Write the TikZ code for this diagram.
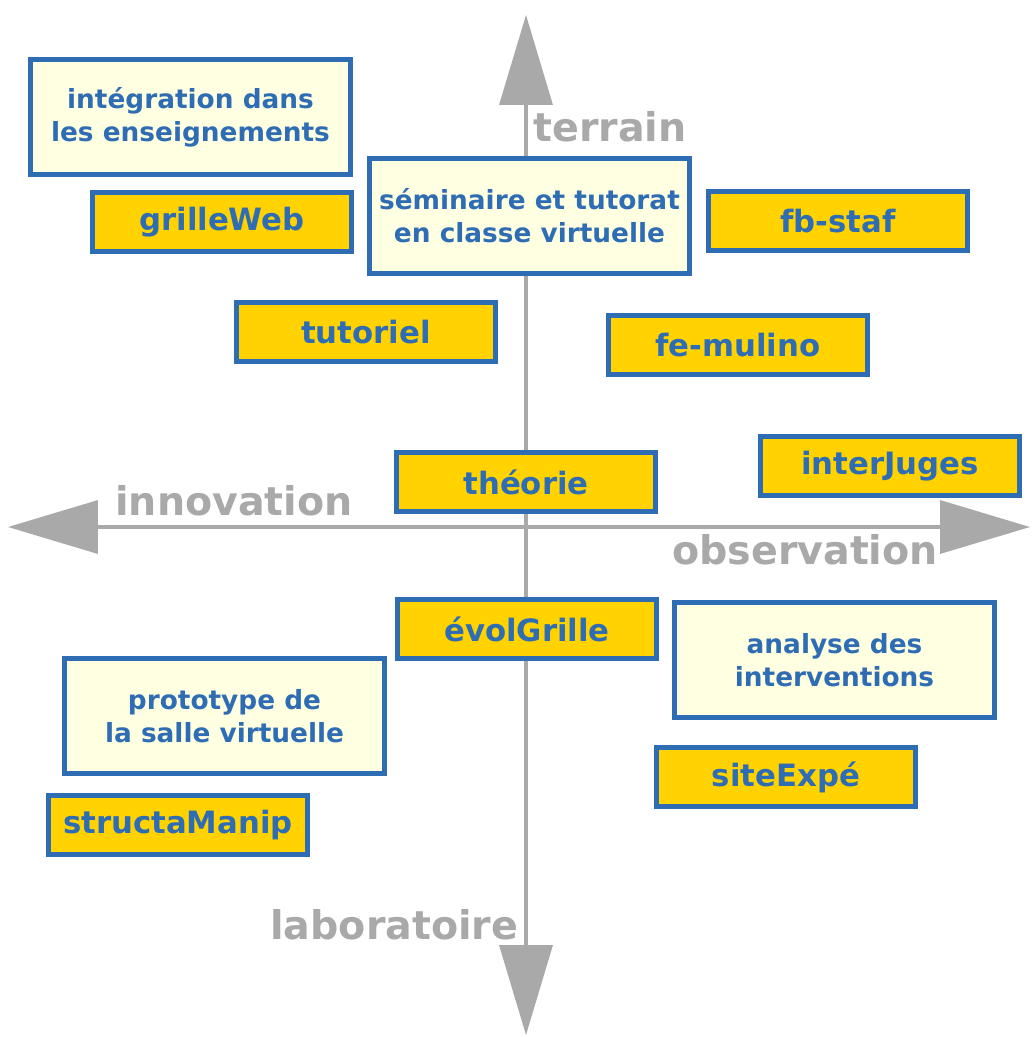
\documentclass[tikz,border=0pt]{standalone}
\usepackage{fontspec}
\setmainfont{DejaVu Sans}
\usepackage{tikz}
\usetikzlibrary{arrows.meta}
\definecolor{bleubord}{HTML}{2E6DB4}
\definecolor{jaune}{HTML}{FFD200}
\definecolor{creme}{HTML}{FFFFE2}
\definecolor{gris}{HTML}{A9A9A9}

\begin{document}
\begin{tikzpicture}[x=0.02cm, y=-0.02cm,
    projet/.style={draw=bleubord, fill=jaune, line width=2.8pt, text=bleubord, inner sep=0pt,
      minimum width=5.18cm, minimum height=1.18cm, font=\bfseries\fontsize{17.5}{20}\selectfont},
    theme/.style={draw=bleubord, fill=creme, line width=2.8pt, text=bleubord, inner sep=0pt, align=center,
      minimum width=6.4cm, minimum height=2.3cm, font=\bfseries\fontsize{15}{18.7}\selectfont},
    axe/.style={draw=gris, line width=2pt, {Triangle[length=1.8cm,width=1.06cm]}-{Triangle[length=1.8cm,width=1.06cm]}},
    pole/.style={text=gris, inner sep=0pt, anchor=base west, font=\bfseries\fontsize{22.5}{26}\selectfont}]
    \fill [white] (0,0) rectangle (1030,1037);          %fond
    \coordinate (haut) at (526,15);
    \coordinate (bas) at (526,1035);
    \coordinate (gauche) at (8,527);
    \coordinate (droite) at (1030,527);
    \draw [axe] (bas) -- (haut);                       %terrain-laboratoire
    \draw [axe] (gauche) -- (droite);                  %innovation-observation
    \node [pole] (terrain) at (533,142) {terrain};
    \node [pole] (innovation) at (115,515) {innovation};
    \node [pole] (observation) at (672,564) {observation};
    \node [pole] (laboratoire) at (270,939) {laboratoire};
    % themes
    \node [theme] (integration) at (190.5,117) {intégration dans\\les enseignements};
    \node [theme] (seminaire) at (529.5,216) {séminaire et tutorat\\en classe virtuelle};
    \node [theme] (analyse) at (834.5,660) {analyse des\\interventions};
    \node [theme] (prototype) at (224.5,716) {prototype de\\la salle virtuelle};
    % projets
    \node [projet] (grilleWeb) at (222,222) {grilleWeb};
    \node [projet] (fbstaf) at (838,221) {fb-staf};
    \node [projet] (tutoriel) at (366,332) {tutoriel};
    \node [projet] (femulino) at (738,345) {fe-mulino};
    \node [projet] (theorie) at (526,482) {théorie};
    \node [projet] (interJuges) at (890,466) {interJuges};
    \node [projet] (evolGrille) at (527,629) {évolGrille};
    \node [projet] (siteExpe) at (786,777) {siteExpé};
    \node [projet] (structaManip) at (178,825) {structaManip};
\end{tikzpicture}
\end{document}
